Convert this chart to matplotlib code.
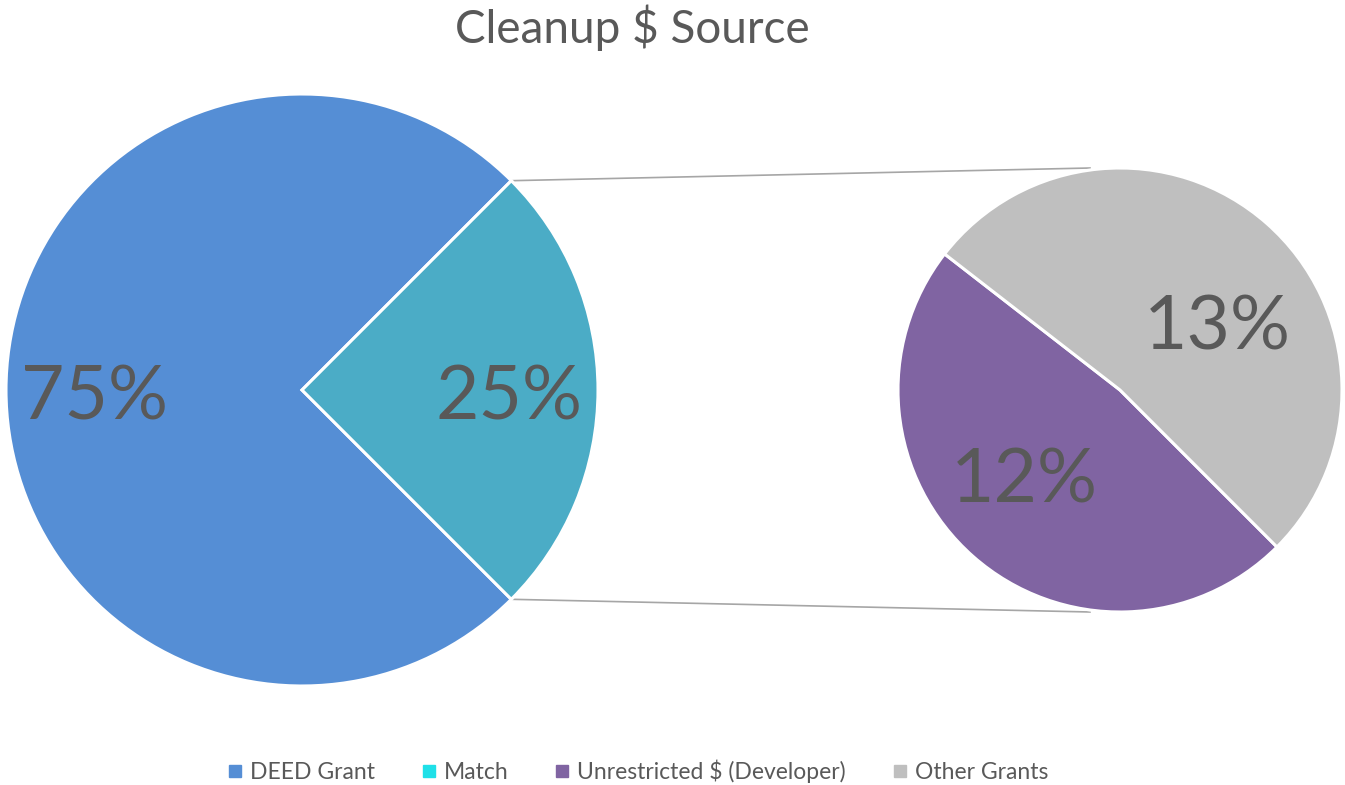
import numpy as np
import matplotlib

matplotlib.use("Agg")
import matplotlib.pyplot as plt  # noqa: E402
from matplotlib.lines import Line2D  # noqa: E402

plt.rcParams["font.family"] = ["Lato", "DejaVu Sans"]

title = "Cleanup $ Source"
main_labels = ["DEED Grant", "Match"]
main_values = [75, 25]
main_colors = ["#558ED5", "#4BACC6"]

sub_labels = ["Unrestricted $ (Developer)", "Other Grants"]
sub_values = [12, 13]
sub_colors = ["#8064A2", "#BFBFBF"]

legend_labels = ["DEED Grant", "Match", "Unrestricted $ (Developer)", "Other Grants"]
legend_colors = ["#558ED5", "#1FE0E8", "#8064A2", "#BFBFBF"]

text_color = "#595959"

W, H = 1345, 785
fig = plt.figure(figsize=(W / 100, H / 100), dpi=100)
ax = fig.add_axes([0, 0, 1, 1])

main_center, main_r = (302, 395), 296
sub_center, sub_r = (1120, 395), 222
label_drop = 8  # visual centring of the big percentages

# main pie: the "Match" slice faces the small pie, centred on 0 degrees
match_span = 360 * main_values[1] / sum(main_values)
main_start = match_span / 2
wedges, texts, autotexts = ax.pie(
    main_values, colors=main_colors, startangle=main_start, center=main_center,
    radius=main_r, autopct="%1.0f%%", pctdistance=0.70, frame=True,
    wedgeprops=dict(edgecolor="white", linewidth=2.2),
    textprops=dict(color=text_color, fontsize=54),
)
for t in autotexts:
    x, y = t.get_position()
    t.set_position((x, y - label_drop))

# second pie: breakdown of the match
sub_start = -match_span / 2 - 360 * sub_values[0] / sum(sub_values)
wedges2, texts2, autotexts2 = ax.pie(
    sub_values, colors=sub_colors, startangle=sub_start, center=sub_center,
    radius=sub_r, autopct=lambda p: f"{p * sum(sub_values) / 100:.0f}%",
    pctdistance=0.56, frame=True,
    wedgeprops=dict(edgecolor="white", linewidth=2.2),
    textprops=dict(color=text_color, fontsize=54),
)
# Excel-like label spots inside the small pie
for t, ang, dist in zip(autotexts2, [221, 36], [0.57, 0.54]):
    a = np.deg2rad(ang)
    t.set_position((sub_center[0] + dist * sub_r * np.cos(a),
                    sub_center[1] + dist * sub_r * np.sin(a) - label_drop))

ax.set_xlim(0, W)
ax.set_ylim(0, H)
ax.set_aspect("equal")
ax.axis("off")

# connector lines between the two pies
theta = np.deg2rad(match_span / 2)
for sign in (1, -1):
    x0 = main_center[0] + main_r * np.cos(theta)
    y0 = main_center[1] + sign * main_r * np.sin(theta)
    x1 = sub_center[0] - 30
    y1 = sub_center[1] + sign * sub_r
    ax.plot([x0, x1], [y0, y1], color="#A6A6A6", linewidth=1.2, zorder=0)

fig.text(0.47, 0.965, title, ha="center", va="center", fontsize=33, color=text_color)

handles = [Line2D([], [], marker="s", linestyle="none", markersize=8,
                  markerfacecolor=c, markeredgecolor=c) for c in legend_colors]
fig.legend(handles, legend_labels, loc="center", bbox_to_anchor=(0.474, 0.018),
           ncol=4, frameon=False, fontsize=16.5, labelcolor=text_color,
           handlelength=0.7, handletextpad=0.3, columnspacing=2.0)

fig.savefig("out.png", dpi=100)
